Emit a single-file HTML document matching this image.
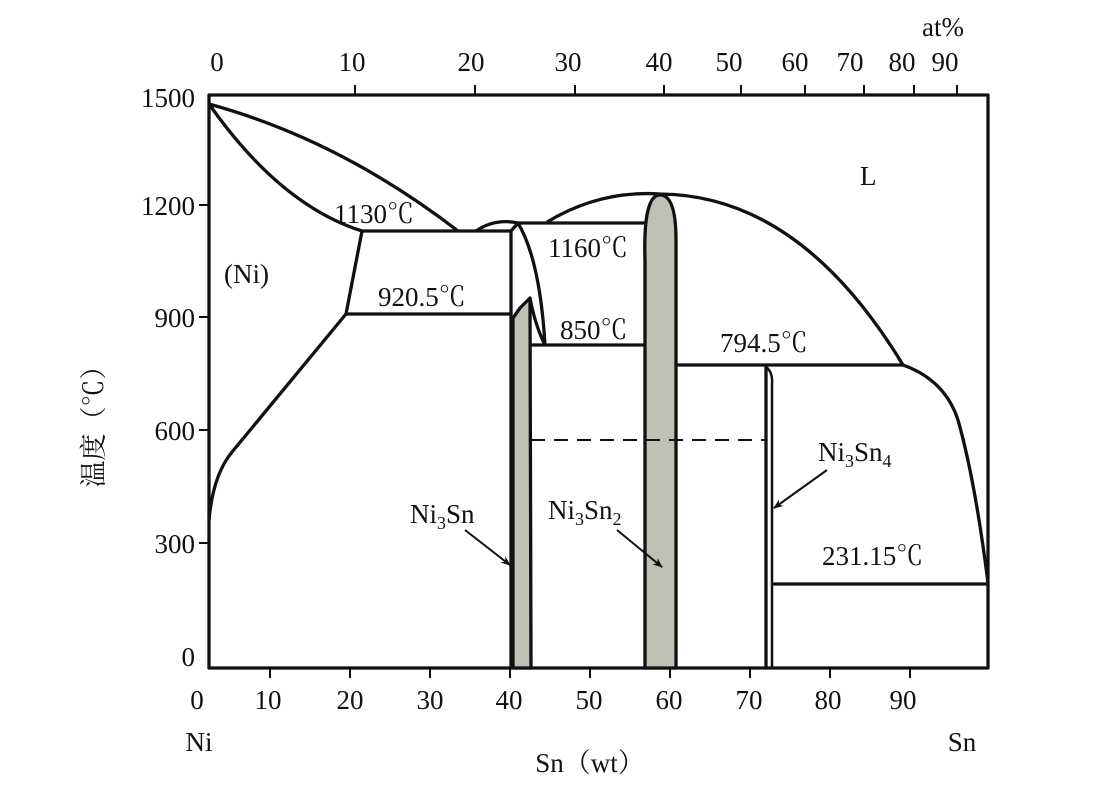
<!DOCTYPE html>
<html><head><meta charset="utf-8"><style>
html,body{margin:0;padding:0;background:#fff;}
svg text{font-family:"Liberation Serif","Noto Serif CJK SC",serif;fill:#111;}
</style></head><body>
<svg width="1093" height="787" viewBox="0 0 1093 787" xmlns="http://www.w3.org/2000/svg">
<defs><marker id="ah" markerWidth="10" markerHeight="8" refX="9" refY="4" orient="auto" markerUnits="userSpaceOnUse"><path d="M0,0 L10,4 L0,8 L3,4 Z" fill="#111"/></marker></defs>
<g stroke="#111" stroke-width="3.3" fill="none" stroke-linejoin="round">
<rect x="209" y="95" width="779" height="573"/>
<path d="M355,95v-10M475,95v-10M575,95v-10M664,95v-10M741,95v-10M805,95v-10M864,95v-10M914,95v-10M957,95v-10" stroke-width="2"/>
<path d="M270,668v10M350,668v10M430,668v10M510,668v10M590,668v10M670,668v10M750,668v10M830,668v10M910,668v10" stroke-width="2"/>
<path d="M209,205h-10M209,317h-10M209,430h-10M209,543h-10" stroke-width="2"/>
<path d="M209,104 Q340,140 458,231"/>
<path d="M209,104 Q280,205 362,231"/>
<path d="M362,231 H511"/>
<path d="M362,231 L346,314 H511"/>
<path d="M346,314 L232,452 Q213,475 209,520"/>
<path d="M476,231 Q495,218 518,223 Q540,260 545,345"/>
<path d="M511,231 L518,223 H645"/>
<path d="M511,231 V668"/>
<path d="M513,668 V318 L520,308 L530,298 L531,668 Z" fill="#c0c0b4"/>
<path d="M530,298 Q535,325 545,345"/>
<path d="M531,345 H645"/>
<path d="M645,668 V260 Q643,195 660,195 Q676,195 676,240 V668 Z" fill="#c0c0b4"/>
<path d="M547,222 Q600,190 660,194 Q800,195 903,365"/>
<path d="M676,365 H903"/>
<path d="M766,668 V365"/>
<path d="M766,367 Q773,372 772,385 V668" stroke-width="2.5"/>
<path d="M903,365 Q945,380 958,420 Q975,480 988,583"/>
<path d="M772,584 H988"/>
<path d="M531,440 H765" stroke-width="2" stroke-dasharray="14,9"/>
<path d="M465,530 L510,565" stroke-width="2" marker-end="url(#ah)"/>
<path d="M617,530 L662,567" stroke-width="2" marker-end="url(#ah)"/>
<path d="M827,470 L774,508" stroke-width="2" marker-end="url(#ah)"/>
</g>
<g font-size="27">
<text x="943" y="36" text-anchor="middle">at%</text>
<g text-anchor="middle">
<text x="217" y="71">0</text><text x="352" y="71">10</text><text x="471" y="71">20</text><text x="568" y="71">30</text><text x="659" y="71">40</text><text x="729" y="71">50</text><text x="795" y="71">60</text><text x="850" y="71">70</text><text x="902" y="71">80</text><text x="945" y="71">90</text>
<text x="197" y="709">0</text><text x="268" y="709">10</text><text x="350" y="709">20</text><text x="430" y="709">30</text><text x="509" y="709">40</text><text x="589" y="709">50</text><text x="669" y="709">60</text><text x="749" y="709">70</text><text x="828" y="709">80</text><text x="903" y="709">90</text>
<text x="199" y="751">Ni</text><text x="962" y="751">Sn</text>
<text x="590" y="772">Sn（wt）</text>
</g>
<g text-anchor="end">
<text x="195" y="107">1500</text><text x="195" y="215">1200</text><text x="195" y="327">900</text><text x="195" y="440">600</text><text x="195" y="553">300</text><text x="195" y="666">0</text>
</g>
<text transform="translate(103,420) rotate(-90)" text-anchor="middle">温度（℃）</text>
<text x="334" y="223">1130℃</text>
<text x="378" y="306">920.5℃</text>
<text x="548" y="257">1160℃</text>
<text x="560" y="339">850℃</text>
<text x="720" y="352">794.5℃</text>
<text x="822" y="565">231.15℃</text>
<text x="224" y="283">(Ni)</text>
<text x="860" y="185">L</text>
<text x="410" y="523">Ni<tspan font-size="18" dy="6">3</tspan><tspan dy="-6">Sn</tspan></text>
<text x="548" y="519">Ni<tspan font-size="18" dy="6">3</tspan><tspan dy="-6">Sn</tspan><tspan font-size="18" dy="6">2</tspan></text>
<text x="818" y="461">Ni<tspan font-size="18" dy="6">3</tspan><tspan dy="-6">Sn</tspan><tspan font-size="18" dy="6">4</tspan></text>
</g>
</svg>
</body></html>
